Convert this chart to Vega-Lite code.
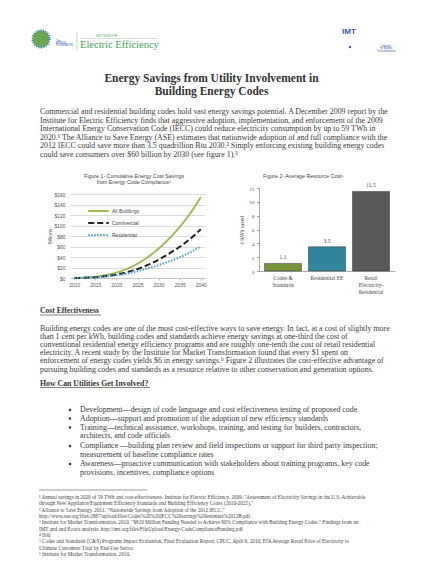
{
  "$schema": "https://vega.github.io/schema/vega-lite/v6.json",
  "padding": 0,
  "width": 441,
  "height": 572,
  "background": "white",
  "config": {"view": {"stroke": null}, "font": "Liberation Serif"},
  "datasets": {
    "top": [
      {"b": "title", "n": 1, "t": "Energy Savings from Utility Involvement in"},
      {"b": "title", "n": 2, "t": "Building Energy Codes"},
      {"b": "p1", "n": 1, "t": "Commercial and residential building codes hold vast energy savings potential.  A December 2009 report by the"},
      {"b": "p1", "n": 2, "t": "Institute for Electric Efficiency finds that aggressive adoption, implementation, and enforcement of the 2009"},
      {"b": "p1", "n": 3, "t": "International Energy Conservation Code (IECC) could reduce electricity consumption by up to 59 TWh in"},
      {"b": "p1", "n": 4, "t": "2020.¹  The Alliance to Save Energy (ASE) estimates that nationwide adoption of and full compliance with the"},
      {"b": "p1", "n": 5, "t": "2012 IECC could save more than 3.5 quadrillion Btu 2030.²  Simply enforcing existing building energy codes"},
      {"b": "p1", "n": 6, "t": "could save consumers over $60 billion by 2030 (see figure 1).³"},
      {"b": "f1", "n": 1, "t": "Figure 1- Cumulative Energy Cost Savings"},
      {"b": "f1", "n": 2, "t": "from Energy Code Compliance⁴"},
      {"b": "f2", "n": 1, "t": "Figure 2- Average Resource Cost⁵"}
    ],
    "bottom": [
      {"b": "h1", "n": 1, "t": "Cost Effectiveness"},
      {"b": "h2", "n": 1, "t": "How Can Utilities Get Involved?"},
      {"b": "p2", "n": 1, "t": "Building energy codes are one of the most cost-effective ways to save energy.  In fact, at a cost of slightly more"},
      {"b": "p2", "n": 2, "t": "than 1 cent per kWh, building codes and standards achieve energy savings at one-third the cost of"},
      {"b": "p2", "n": 3, "t": "conventional residential energy efficiency programs and are roughly one-tenth the cost of retail residential"},
      {"b": "p2", "n": 4, "t": "electricity.  A recent study by the Institute for Market Transformation found that every $1 spent on"},
      {"b": "p2", "n": 5, "t": "enforcement of energy codes yields $6 in energy savings.⁶  Figure 2 illustrates the cost-effective advantage of"},
      {"b": "p2", "n": 6, "t": "pursuing building codes and standards as a resource relative to other conservation and generation options."},
      {"b": "bul", "n": 1, "first": true, "t": "Development—design of code language and cost effectiveness testing of proposed code"},
      {"b": "bul", "n": 2, "first": true, "t": "Adoption—support and promotion of the adoption of new efficiency standards"},
      {"b": "bul", "n": 3, "first": true, "t": "Training—technical assistance, workshops, training, and testing for builders, contractors,"},
      {"b": "bul", "n": 4, "first": false, "t": "architects, and code officials"},
      {"b": "bul", "n": 5, "first": true, "t": "Compliance —building plan review and field inspections or support for third party inspection;"},
      {"b": "bul", "n": 6, "first": false, "t": "measurement of baseline compliance rates"},
      {"b": "bul", "n": 7, "first": true, "t": "Awareness—proactive communication with stakeholders about training programs, key code"},
      {"b": "bul", "n": 8, "first": false, "t": "provisions, incentives, compliance options"},
      {"b": "fn", "n": 1, "t": "¹ Annual savings in 2020 of 59 TWh and cost-effectiveness. Institute for Electric Efficiency. 2009. \"Assessment of Electricity Savings in the U.S. Achievable"},
      {"b": "fn", "n": 2, "t": "  through New Appliance/Equipment Efficiency Standards and Building Efficiency Codes (2010-2025).\""},
      {"b": "fn", "n": 3, "t": "² Alliance to Save Energy. 2011. \"Nationwide Savings from Adoption of the 2012 IECC.\""},
      {"b": "fn", "n": 4, "t": "  http://www.ase.org/files/2887/upload/files/Codes%20%20IECC%20savings%20estimate%2012B.pdf."},
      {"b": "fn", "n": 5, "t": "³ Institute for Market Transformation. 2010. \"$810 Million Funding Needed to Achieve 90% Compliance with Building Energy Codes.\" Findings from an"},
      {"b": "fn", "n": 6, "t": "  IMT and and Ecova analysis. http://imt.org/files/FileUpload/Energy/CodeComplianceFunding.pdf"},
      {"b": "fn", "n": 7, "t": "⁴ Ibid"},
      {"b": "fn", "n": 8, "t": "⁵ Codes and Standards (C&S) Programs Impact Evaluation, Final Evaluation Report, CPUC, April 9, 2010; EIA Average Retail Price of Electricity to"},
      {"b": "fn", "n": 9, "t": "  Ultimate Customers Total by End-Use Sector."},
      {"b": "fn", "n": 10, "t": "⁶ Institute for Market Transformation. 2010."}
    ],
    "savings": [
      {"year": 2010, "series": "All Buildings", "v": 0},
      {"year": 2012, "series": "All Buildings", "v": 0.5},
      {"year": 2014, "series": "All Buildings", "v": 1.5},
      {"year": 2016, "series": "All Buildings", "v": 3.5},
      {"year": 2018, "series": "All Buildings", "v": 6.5},
      {"year": 2020, "series": "All Buildings", "v": 10.5},
      {"year": 2022, "series": "All Buildings", "v": 16},
      {"year": 2024, "series": "All Buildings", "v": 23},
      {"year": 2026, "series": "All Buildings", "v": 32},
      {"year": 2028, "series": "All Buildings", "v": 43},
      {"year": 2030, "series": "All Buildings", "v": 56},
      {"year": 2032, "series": "All Buildings", "v": 71},
      {"year": 2034, "series": "All Buildings", "v": 88},
      {"year": 2036, "series": "All Buildings", "v": 107},
      {"year": 2038, "series": "All Buildings", "v": 129},
      {"year": 2040, "series": "All Buildings", "v": 154},
      {"year": 2010, "series": "Commercial", "v": 0},
      {"year": 2012, "series": "Commercial", "v": 0.3},
      {"year": 2014, "series": "Commercial", "v": 1},
      {"year": 2016, "series": "Commercial", "v": 2.2},
      {"year": 2018, "series": "Commercial", "v": 4},
      {"year": 2020, "series": "Commercial", "v": 6.5},
      {"year": 2022, "series": "Commercial", "v": 10},
      {"year": 2024, "series": "Commercial", "v": 14.5},
      {"year": 2026, "series": "Commercial", "v": 20},
      {"year": 2028, "series": "Commercial", "v": 27},
      {"year": 2030, "series": "Commercial", "v": 35},
      {"year": 2032, "series": "Commercial", "v": 44},
      {"year": 2034, "series": "Commercial", "v": 54},
      {"year": 2036, "series": "Commercial", "v": 65},
      {"year": 2038, "series": "Commercial", "v": 78},
      {"year": 2040, "series": "Commercial", "v": 93},
      {"year": 2010, "series": "Residential", "v": 0},
      {"year": 2012, "series": "Residential", "v": 0.2},
      {"year": 2014, "series": "Residential", "v": 0.8},
      {"year": 2016, "series": "Residential", "v": 1.8},
      {"year": 2018, "series": "Residential", "v": 3},
      {"year": 2020, "series": "Residential", "v": 5},
      {"year": 2022, "series": "Residential", "v": 7.5},
      {"year": 2024, "series": "Residential", "v": 11},
      {"year": 2026, "series": "Residential", "v": 15},
      {"year": 2028, "series": "Residential", "v": 19.5},
      {"year": 2030, "series": "Residential", "v": 24.5},
      {"year": 2032, "series": "Residential", "v": 30},
      {"year": 2034, "series": "Residential", "v": 36},
      {"year": 2036, "series": "Residential", "v": 43},
      {"year": 2038, "series": "Residential", "v": 51},
      {"year": 2040, "series": "Residential", "v": 60}
    ],
    "cost": [
      {"cat": "Codes & Standards", "v": 1.1},
      {"cat": "Residential EE", "v": 3.5},
      {"cat": "Retail Electricity-Residential", "v": 11.5}
    ]
  },
  "layer": [
    {
      "data": {"values": [{"k": "globe"}]},
      "mark": {"type": "circle", "size": 300, "fill": "#6aa84f", "opacity": 1, "stroke": "#3d85c6", "strokeWidth": 2, "strokeDash": [1, 1.5]},
      "encoding": {"x": {"value": 41}, "y": {"value": 39}}
    },
    {
      "data": {"values": [{"t": "The"}, {"t": "EDISON"}, {"t": "FOUNDATION"}]},
      "mark": {"type": "text", "font": "Liberation Sans", "fontSize": 2.6, "fill": "#2c5aa0", "align": "left"},
      "encoding": {
        "x": {"value": 56},
        "y": {"field": "t", "type": "nominal", "sort": null, "scale": {"type": "point", "range": [40, 47]}, "axis": null},
        "text": {"field": "t"}
      }
    },
    {
      "data": {"values": [{"t": "Electric Efficiency"}]},
      "mark": {"type": "text", "fontSize": 10.5, "fill": "#45a35a", "align": "left", "baseline": "middle"},
      "encoding": {"x": {"value": 80}, "y": {"value": 45}, "text": {"field": "t"}}
    },
    {
      "data": {"values": [{"t": "INSTITUTE FOR"}]},
      "mark": {"type": "text", "font": "Liberation Sans", "fontSize": 2.8, "fill": "#45a35a", "align": "left", "baseline": "middle"},
      "encoding": {"x": {"value": 96}, "y": {"value": 36}, "text": {"field": "t"}}
    },
    {
      "data": {"values": [{"k": "sep"}]},
      "mark": {"type": "rule", "stroke": "#9fcf9f", "strokeWidth": 0.6},
      "encoding": {"x": {"value": 77}, "y": {"value": 32}, "y2": {"value": 51}}
    },
    {
      "data": {"values": [{"k": "under"}]},
      "mark": {"type": "rule", "stroke": "#9fcf9f", "strokeWidth": 0.5},
      "encoding": {"x": {"value": 80}, "x2": {"value": 158}, "y": {"value": 38.5}}
    },
    {
      "data": {"values": [{"t": "IMT"}]},
      "mark": {"type": "text", "font": "Liberation Sans", "fontWeight": "bold", "fontSize": 8, "fill": "#3b5ba5", "align": "left", "baseline": "middle"},
      "encoding": {"x": {"value": 342}, "y": {"value": 32}, "text": {"field": "t"}}
    },
    {
      "data": {"values": [{"k": "dot"}]},
      "mark": {"type": "circle", "size": 6, "fill": "#3b5ba5", "opacity": 1},
      "encoding": {"x": {"value": 350}, "y": {"value": 47}}
    },
    {
      "data": {"values": [{"t": "Institute"}, {"t": "for Market"}, {"t": "Transformation"}]},
      "mark": {"type": "text", "font": "Liberation Sans", "fontSize": 2.8, "fill": "#3b5ba5", "align": "center"},
      "encoding": {
        "x": {"value": 386},
        "y": {"field": "t", "type": "nominal", "sort": null, "scale": {"type": "point", "range": [44, 52]}, "axis": null},
        "text": {"field": "t"}
      }
    },
    {
      "data": {"name": "top"},
      "transform": [{"filter": "datum.b == 'title'"}],
      "mark": {"type": "text", "fontSize": 11.5, "fontWeight": "bold", "fill": "#333333", "align": "center", "baseline": "middle"},
      "encoding": {
        "x": {"value": 211.5},
        "y": {"field": "n", "type": "quantitative", "scale": {"domain": [1, 2], "range": [78.5, 91.5]}, "axis": null},
        "text": {"field": "t"}
      }
    },
    {
      "data": {"name": "top"},
      "transform": [{"filter": "datum.b == 'p1'"}],
      "mark": {"type": "text", "fontSize": 7.9, "fill": "#3a3a3a", "align": "left", "baseline": "middle"},
      "encoding": {
        "x": {"value": 40},
        "y": {"field": "n", "type": "quantitative", "scale": {"domain": [1, 6], "range": [112, 154.5]}, "axis": null},
        "text": {"field": "t"}
      }
    },
    {
      "data": {"name": "top"},
      "transform": [{"filter": "datum.b == 'f1'"}],
      "mark": {"type": "text", "font": "Liberation Sans", "fontSize": 5.3, "fill": "#444444", "align": "center", "baseline": "middle"},
      "encoding": {
        "x": {"value": 134},
        "y": {"field": "n", "type": "quantitative", "scale": {"domain": [1, 2], "range": [175.7, 182.3]}, "axis": null},
        "text": {"field": "t"}
      }
    },
    {
      "data": {"name": "top"},
      "transform": [{"filter": "datum.b == 'f2'"}],
      "mark": {"type": "text", "font": "Liberation Sans", "fontSize": 5.3, "fill": "#444444", "align": "left", "baseline": "middle"},
      "encoding": {"x": {"value": 263}, "y": {"value": 175.7}, "text": {"field": "t"}}
    },
    {
      "data": {"name": "savings"},
      "mark": {"type": "line", "interpolate": "monotone", "strokeWidth": 2},
      "encoding": {
        "x": {
          "field": "year", "type": "quantitative",
          "scale": {"domain": [2009, 2041], "range": [70, 205], "nice": false, "zero": false},
          "axis": {
            "orient": "bottom", "offset": -294,
            "values": [2010, 2015, 2020, 2025, 2030, 2035, 2040], "format": "d", "title": null,
            "grid": false, "labelFont": "Liberation Sans", "labelFontSize": 5, "labelColor": "#555555",
            "domainColor": "#bbbbbb", "domainWidth": 0.7, "tickColor": "#bbbbbb", "tickSize": 2, "labelPadding": 2
          }
        },
        "y": {
          "field": "v", "type": "quantitative",
          "scale": {"domain": [0, 160], "range": [278, 194], "nice": false},
          "axis": {
            "orient": "left", "offset": -70,
            "values": [0, 20, 40, 60, 80, 100, 120, 140, 160], "labelExpr": "'$' + datum.value",
            "title": "Billions", "titleFont": "Liberation Sans", "titleFontSize": 5, "titleFontWeight": "normal",
            "titleColor": "#555555", "titlePadding": 1,
            "grid": true, "gridColor": "#c4c4c4", "gridWidth": 0.6, "domain": false, "ticks": false,
            "labelFont": "Liberation Sans", "labelFontSize": 5, "labelColor": "#555555", "labelPadding": 5
          }
        },
        "color": {
          "field": "series", "type": "nominal",
          "scale": {"domain": ["All Buildings", "Commercial", "Residential"], "range": ["#9bbb59", "#222222", "#4f9fd0"]},
          "legend": {
            "orient": "none", "legendX": 87, "legendY": 207, "title": null, "symbolType": "stroke",
            "symbolSize": 420, "symbolStrokeWidth": 2, "clipHeight": 8, "rowPadding": 4,
            "labelFont": "Liberation Sans", "labelFontSize": 5, "labelColor": "#444444", "labelOffset": 2
          }
        },
        "strokeDash": {
          "field": "series", "type": "nominal",
          "scale": {"domain": ["All Buildings", "Commercial", "Residential"], "range": [[1, 0], [6, 3], [1.5, 1.5]]}
        }
      }
    },
    {
      "data": {"name": "cost"},
      "encoding": {
        "x": {
          "field": "cat", "type": "nominal", "sort": null,
          "scale": {"range": [259, 395], "paddingInner": 0.16, "paddingOuter": 0.125},
          "axis": {
            "orient": "bottom", "offset": -301,
            "title": null, "labelAngle": 0, "ticks": false,
            "labelExpr": "datum.value == 'Codes & Standards' ? ['Codes &', 'Standards'] : datum.value == 'Retail Electricity-Residential' ? ['Retail', 'Electricity-', 'Residential'] : datum.value",
            "labelFont": "Liberation Serif", "labelFontSize": 5.5, "labelColor": "#444444", "labelLineHeight": 7,
            "labelPadding": 4, "domainColor": "#888888", "domainWidth": 0.7
          }
        },
        "y": {
          "field": "v", "type": "quantitative",
          "scale": {"domain": [0, 12], "range": [271, 188], "nice": false},
          "axis": {
            "orient": "left", "offset": -259,
            "values": [0, 2, 4, 6, 8, 10, 12], "grid": false,
            "title": "¢/kWh saved", "titleFont": "Liberation Serif", "titleFontSize": 5.3, "titleFontWeight": "normal",
            "titleColor": "#444444", "titlePadding": 5,
            "labelFont": "Liberation Serif", "labelFontSize": 5, "labelColor": "#444444", "labelPadding": 3,
            "tickSize": 2, "tickColor": "#888888", "domainColor": "#888888", "domainWidth": 0.7
          }
        }
      },
      "layer": [
        {
          "mark": {"type": "bar", "stroke": "#333333", "strokeWidth": 0.5},
          "encoding": {
            "color": {
              "field": "cat", "type": "nominal", "legend": null,
              "scale": {"domain": ["Codes & Standards", "Residential EE", "Retail Electricity-Residential"], "range": ["#77933c", "#31859c", "#595959"]}
            }
          }
        },
        {
          "mark": {"type": "text", "dy": -6, "font": "Liberation Serif", "fontSize": 5.5, "fill": "#444444"},
          "encoding": {"text": {"field": "v", "type": "quantitative", "format": ".1f"}}
        }
      ]
    },
    {
      "data": {"name": "bottom"},
      "transform": [{"filter": "datum.b == 'h1'"}],
      "mark": {"type": "text", "fontSize": 7.6, "fontWeight": "bold", "fill": "#333333", "align": "left", "baseline": "middle"},
      "encoding": {"x": {"value": 40}, "y": {"value": 311}, "text": {"field": "t"}}
    },
    {
      "data": {"values": [{"k": "u1"}]},
      "mark": {"type": "rule", "stroke": "#333333", "strokeWidth": 0.6},
      "encoding": {"x": {"value": 40}, "x2": {"value": 101}, "y": {"value": 315}}
    },
    {
      "data": {"name": "bottom"},
      "transform": [{"filter": "datum.b == 'h2'"}],
      "mark": {"type": "text", "fontSize": 7.8, "fontWeight": "bold", "fill": "#333333", "align": "left", "baseline": "middle"},
      "encoding": {"x": {"value": 40}, "y": {"value": 383.5}, "text": {"field": "t"}}
    },
    {
      "data": {"values": [{"k": "u2"}]},
      "mark": {"type": "rule", "stroke": "#333333", "strokeWidth": 0.6},
      "encoding": {"x": {"value": 40}, "x2": {"value": 150}, "y": {"value": 387.5}}
    },
    {
      "data": {"name": "bottom"},
      "transform": [{"filter": "datum.b == 'p2'"}],
      "mark": {"type": "text", "fontSize": 7.9, "fill": "#3a3a3a", "align": "left", "baseline": "middle"},
      "encoding": {
        "x": {"value": 40},
        "y": {"field": "n", "type": "quantitative", "scale": {"domain": [1, 6], "range": [329.3, 369.5]}, "axis": null},
        "text": {"field": "t"}
      }
    },
    {
      "data": {"name": "bottom"},
      "transform": [{"filter": "datum.b == 'bul'"}],
      "mark": {"type": "text", "fontSize": 7.9, "fill": "#3a3a3a", "align": "left", "baseline": "middle"},
      "encoding": {
        "x": {"value": 80},
        "y": {"field": "n", "type": "quantitative", "scale": {"domain": [1, 2, 3, 4, 5, 6, 7, 8], "range": [410, 418.5, 427.5, 436, 446, 454.5, 464, 473]}, "axis": null},
        "text": {"field": "t"}
      }
    },
    {
      "data": {"name": "bottom"},
      "transform": [{"filter": "datum.b == 'bul' && datum.first"}],
      "mark": {"type": "square", "size": 5, "fill": "#333333", "opacity": 1},
      "encoding": {
        "x": {"value": 70},
        "y": {"field": "n", "type": "quantitative", "scale": {"domain": [1, 2, 3, 4, 5, 6, 7, 8], "range": [410, 418.5, 427.5, 436, 446, 454.5, 464, 473]}, "axis": null}
      }
    },
    {
      "data": {"values": [{"k": "fnrule"}]},
      "mark": {"type": "rule", "stroke": "#555555", "strokeWidth": 0.6},
      "encoding": {"x": {"value": 39}, "x2": {"value": 147}, "y": {"value": 490}}
    },
    {
      "data": {"name": "bottom"},
      "transform": [{"filter": "datum.b == 'fn'"}],
      "mark": {"type": "text", "fontSize": 5.2, "fill": "#444444", "align": "left", "baseline": "middle"},
      "encoding": {
        "x": {"value": 39},
        "y": {"field": "n", "type": "quantitative", "scale": {"domain": [1, 10], "range": [497, 554]}, "axis": null},
        "text": {"field": "t"}
      }
    }
  ],
  "resolve": {
    "scale": {"x": "independent", "y": "independent", "color": "independent", "strokeDash": "independent"},
    "axis": {"x": "independent", "y": "independent"},
    "legend": {"color": "independent", "strokeDash": "independent"}
  }
}
